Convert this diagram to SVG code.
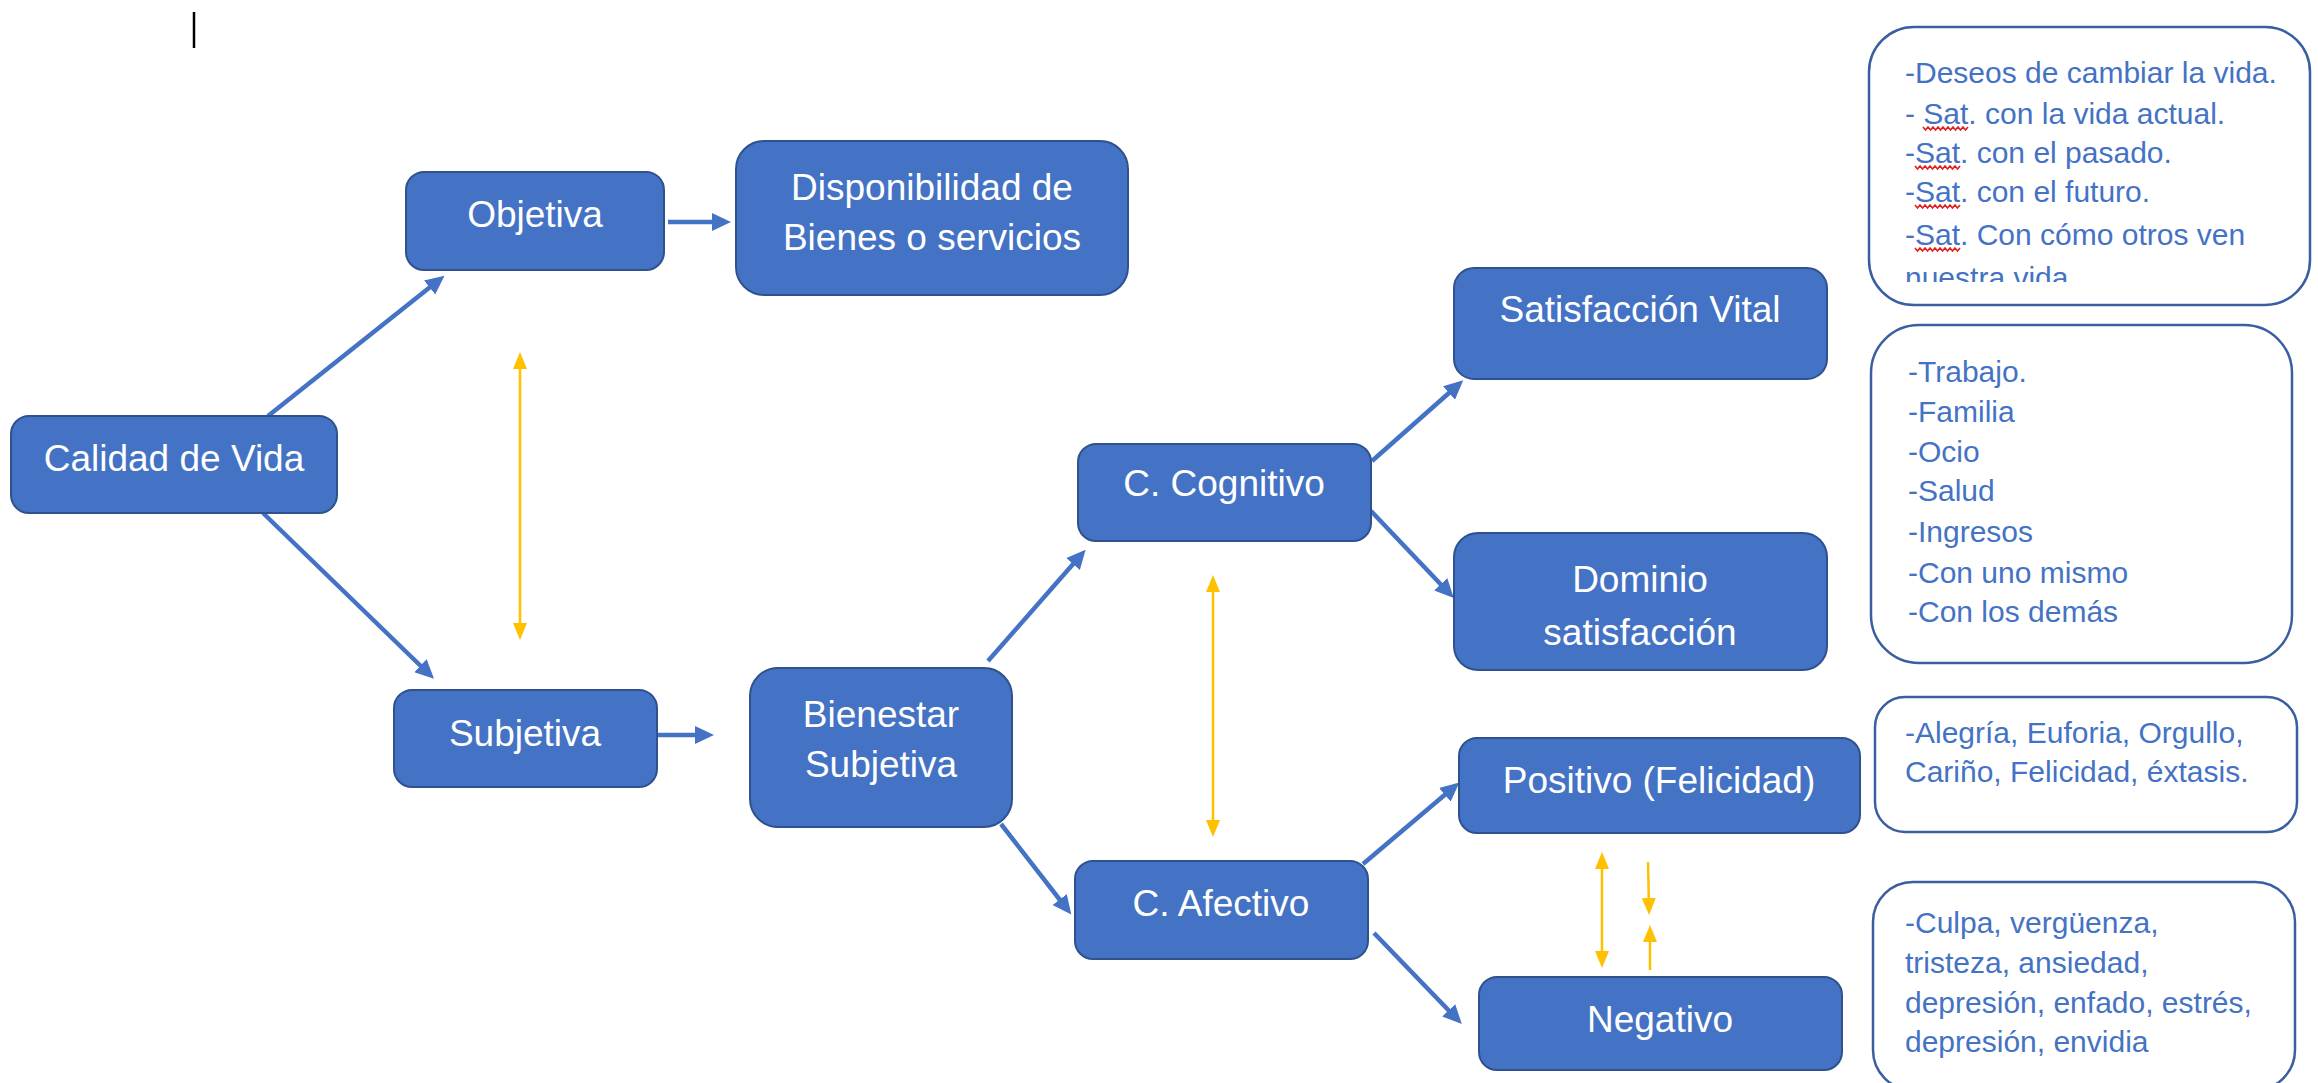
<svg xmlns="http://www.w3.org/2000/svg" width="2318" height="1083" viewBox="0 0 2318 1083">
<style>
.n rect{fill:#4472C4;stroke:#2F528F;stroke-width:2}
.n text{fill:#fff;font-family:"Liberation Sans",Arial,sans-serif;font-size:37px;text-anchor:middle}
.b rect{fill:#fff;stroke:#3A5FA0;stroke-width:2.5}
.b text{fill:#4472C4;font-family:"Liberation Sans",Arial,sans-serif;font-size:30px}
.c line{stroke:#4472C4;stroke-width:4.5;fill:none;marker-end:url(#ab)}
.y line{stroke:#FFC000;stroke-width:2.5;fill:none}
.sq{stroke:#E02020;stroke-width:1.6;fill:none}
</style>
<defs>
<marker id="ab" markerUnits="userSpaceOnUse" markerWidth="20" markerHeight="18" viewBox="0 0 20 18" refX="12" refY="9" orient="auto"><path d="M0,0 L19,9 L0,18 z" fill="#4472C4"/></marker>
<marker id="ay" markerUnits="userSpaceOnUse" markerWidth="18" markerHeight="14" viewBox="0 0 18 14" refX="10" refY="7" orient="auto-start-reverse"><path d="M0,0 L17,7 L0,14 z" fill="#FFC000"/></marker>
<clipPath id="clip1"><rect x="1870" y="30" width="440" height="252"/></clipPath>
</defs>

<line id="cursor" x1="194" y1="12" x2="194" y2="48" stroke="#000" stroke-width="2.5"/>

<g id="connectors">
<g class="c">
<line x1="268" y1="416" x2="439" y2="280"/>
<line x1="263" y1="513" x2="429" y2="674"/>
<line x1="668" y1="222" x2="724" y2="222"/>
<line x1="657" y1="735" x2="707" y2="735"/>
<line x1="988" y1="661" x2="1081" y2="555"/>
<line x1="1001" y1="824" x2="1067" y2="909"/>
<line x1="1372" y1="461" x2="1458" y2="385"/>
<line x1="1371" y1="511" x2="1449" y2="593"/>
<line x1="1363" y1="864" x2="1454" y2="787"/>
<line x1="1374" y1="933" x2="1457" y2="1019"/>
</g>
<g class="y">
<line x1="520" y1="359" x2="520" y2="633" marker-start="url(#ay)" marker-end="url(#ay)"/>
<line x1="1213" y1="582" x2="1213" y2="830" marker-start="url(#ay)" marker-end="url(#ay)"/>
<line x1="1602" y1="859" x2="1602" y2="961" marker-start="url(#ay)" marker-end="url(#ay)"/>
<line x1="1648" y1="862" x2="1649" y2="908" marker-end="url(#ay)"/>
<line x1="1650" y1="970" x2="1650" y2="932" marker-end="url(#ay)"/>
</g>
</g>

<g id="calidad" class="n"><rect x="11" y="416" width="326" height="97" rx="18"/><text x="174" y="471">Calidad de Vida</text></g>
<g id="objetiva" class="n"><rect x="406" y="172" width="258" height="98" rx="18"/><text x="535" y="227">Objetiva</text></g>
<g id="disponibilidad" class="n"><rect x="736" y="141" width="392" height="154" rx="28"/><text x="932" y="200">Disponibilidad de</text><text x="932" y="250">Bienes o servicios</text></g>
<g id="subjetiva" class="n"><rect x="394" y="690" width="263" height="97" rx="18"/><text x="525" y="746">Subjetiva</text></g>
<g id="bienestar" class="n"><rect x="750" y="668" width="262" height="159" rx="28"/><text x="881" y="727">Bienestar</text><text x="881" y="777">Subjetiva</text></g>
<g id="cognitivo" class="n"><rect x="1078" y="444" width="293" height="97" rx="18"/><text x="1224" y="496">C. Cognitivo</text></g>
<g id="afectivo" class="n"><rect x="1075" y="861" width="293" height="98" rx="18"/><text x="1221" y="916">C. Afectivo</text></g>
<g id="satvital" class="n"><rect x="1454" y="268" width="373" height="111" rx="20"/><text x="1640" y="322">Satisfacción Vital</text></g>
<g id="dominio" class="n"><rect x="1454" y="533" width="373" height="137" rx="24"/><text x="1640" y="592">Dominio</text><text x="1640" y="645">satisfacción</text></g>
<g id="positivo" class="n"><rect x="1459" y="738" width="401" height="95" rx="18"/><text x="1659" y="793">Positivo (Felicidad)</text></g>
<g id="negativo" class="n"><rect x="1479" y="977" width="363" height="93" rx="18"/><text x="1660" y="1032">Negativo</text></g>

<g id="box-vital" class="b">
<rect x="1869" y="27" width="441" height="278" rx="45"/>
<g clip-path="url(#clip1)">
<text x="1905" y="83">-Deseos de cambiar la vida.</text>
<text x="1905" y="124">- Sat. con la vida actual.</text>
<text x="1905" y="163">-Sat. con el pasado.</text>
<text x="1905" y="202">-Sat. con el futuro.</text>
<text x="1905" y="245">-Sat. Con cómo otros ven</text>
<text x="1905" y="288">nuestra vida</text>
</g>
<path class="sq" d="M1923,127 l2.5,3 l2.5,-3 l2.5,3 l2.5,-3 l2.5,3 l2.5,-3 l2.5,3 l2.5,-3 l2.5,3 l2.5,-3 l2.5,3 l2.5,-3 l2.5,3 l2.5,-3 l2.5,3 l2.5,-3 l2.5,3 l2.5,-3"/>
<path class="sq" d="M1915,166 l2.5,3 l2.5,-3 l2.5,3 l2.5,-3 l2.5,3 l2.5,-3 l2.5,3 l2.5,-3 l2.5,3 l2.5,-3 l2.5,3 l2.5,-3 l2.5,3 l2.5,-3 l2.5,3 l2.5,-3 l2.5,3 l2.5,-3"/>
<path class="sq" d="M1915,205 l2.5,3 l2.5,-3 l2.5,3 l2.5,-3 l2.5,3 l2.5,-3 l2.5,3 l2.5,-3 l2.5,3 l2.5,-3 l2.5,3 l2.5,-3 l2.5,3 l2.5,-3 l2.5,3 l2.5,-3 l2.5,3 l2.5,-3"/>
<path class="sq" d="M1915,248 l2.5,3 l2.5,-3 l2.5,3 l2.5,-3 l2.5,3 l2.5,-3 l2.5,3 l2.5,-3 l2.5,3 l2.5,-3 l2.5,3 l2.5,-3 l2.5,3 l2.5,-3 l2.5,3 l2.5,-3 l2.5,3 l2.5,-3"/>
</g>

<g id="box-dominio" class="b">
<rect x="1871" y="325" width="421" height="338" rx="48"/>
<text x="1908" y="382">-Trabajo.</text>
<text x="1908" y="422">-Familia</text>
<text x="1908" y="462">-Ocio</text>
<text x="1908" y="501">-Salud</text>
<text x="1908" y="542">-Ingresos</text>
<text x="1908" y="583">-Con uno mismo</text>
<text x="1908" y="622">-Con los demás</text>
</g>

<g id="box-positivo" class="b">
<rect x="1875" y="697" width="422" height="135" rx="30"/>
<text x="1905" y="743">-Alegría, Euforia, Orgullo,</text>
<text x="1905" y="782">Cariño, Felicidad, éxtasis.</text>
</g>

<g id="box-negativo" class="b">
<rect x="1873" y="882" width="422" height="208" rx="40"/>
<text x="1905" y="933">-Culpa, vergüenza,</text>
<text x="1905" y="973">tristeza, ansiedad,</text>
<text x="1905" y="1013">depresión, enfado, estrés,</text>
<text x="1905" y="1052">depresión, envidia</text>
</g>
</svg>
